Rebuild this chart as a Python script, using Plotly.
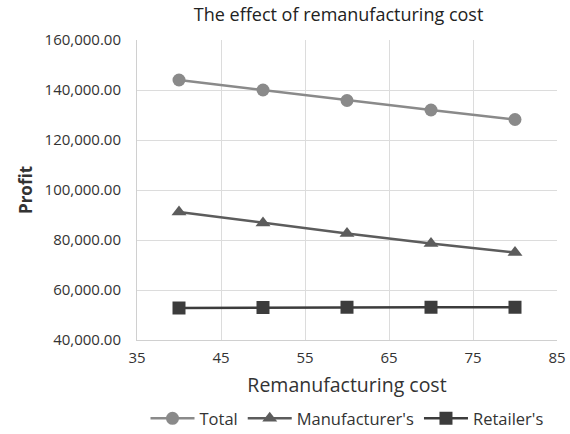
import plotly.graph_objects as go

# Remanufacturing cost levels and resulting profits
cost = [40, 50, 60, 70, 80]
total_profit = [144000, 140000, 135800, 132000, 128200]
manufacturer_profit = [91200, 86800, 82600, 78600, 75000]
retailer_profit = [52800, 53000, 53100, 53100, 53100]

x_ticks = [35, 45, 55, 65, 75, 85]
y_ticks = [40000, 60000, 80000, 100000, 120000, 140000, 160000]

font_family = "Open Sans, Noto Sans, sans-serif"

fig = go.Figure()
fig.add_trace(go.Scatter(
    x=cost, y=total_profit, name="Total", mode="lines+markers",
    line=dict(color="#8a8a8a", width=2.5),
    marker=dict(symbol="circle", size=13, color="#8a8a8a"),
))
fig.add_trace(go.Scatter(
    x=cost, y=manufacturer_profit, name="Manufacturer's", mode="lines+markers",
    line=dict(color="#5c5c5c", width=2.5),
    marker=dict(symbol="triangle-up", size=13, color="#5c5c5c"),
))
fig.add_trace(go.Scatter(
    x=cost, y=retailer_profit, name="Retailer's", mode="lines+markers",
    line=dict(color="#3c3c3c", width=2.5),
    marker=dict(symbol="square", size=13, color="#3c3c3c"),
))

fig.update_layout(
    width=570, height=434,
    margin=dict(l=137, r=13, t=40, b=94, autoexpand=False),
    paper_bgcolor="white", plot_bgcolor="white",
    font=dict(family=font_family, color="#333333", size=13),
    title=dict(text="The effect of remanufacturing cost", x=0.48, xref="paper",
               xanchor="center", y=0.966, yanchor="middle",
               font=dict(size=18, color="#222222")),
    legend=dict(orientation="h", x=0.5, xanchor="center", y=-0.262, yanchor="middle",
                font=dict(size=16.5, color="#333333"), itemwidth=44,
                traceorder="normal"),
    showlegend=True,
)
fig.update_xaxes(
    range=[35, 85], tickvals=x_ticks, showgrid=True, gridcolor="#dcdcdc",
    zeroline=False, showline=True, linecolor="#d0d0d0", ticks="",
    tickfont=dict(size=15), automargin=False, ticklabelstandoff=4,
    title=dict(text="Remanufacturing cost", font=dict(size=19.5, color="#333333"), standoff=12),
)
fig.update_yaxes(
    range=[40000, 160000], tickvals=y_ticks, tickformat=",.2f",
    showgrid=True, gridcolor="#dcdcdc", zeroline=False, showline=True,
    linecolor="#d0d0d0", ticks="", tickfont=dict(size=15), automargin=False,
    ticklabelstandoff=12,
    title=dict(text="<b>Profit</b>", font=dict(size=17, color="#333333"), standoff=7),
)

fig.write_html("out.html")
